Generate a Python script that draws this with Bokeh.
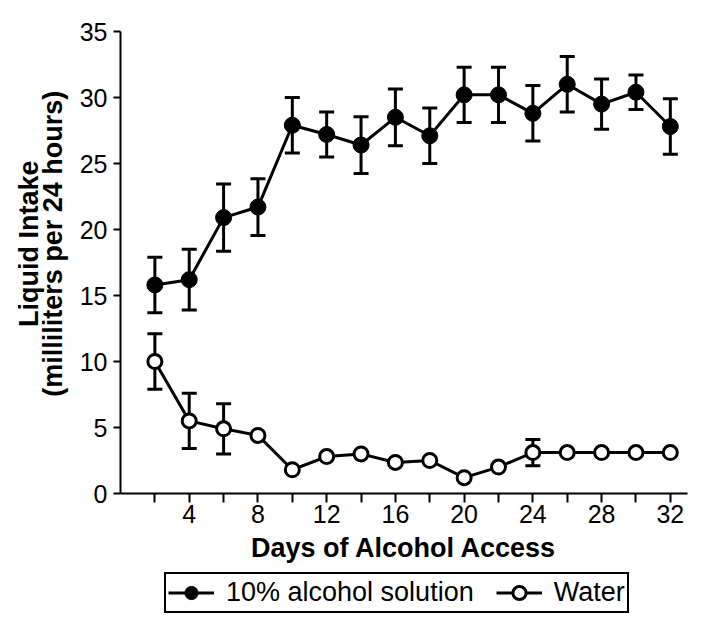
from bokeh.plotting import figure
from bokeh.layouts import column
from bokeh.models import (ColumnDataSource, Whisker, TeeHead, FixedTicker, Legend,
                          LegendItem, Range1d)
from bokeh.embed import file_html
from bokeh.resources import INLINE

# ---- data ----
days = [2, 4, 6, 8, 10, 12, 14, 16, 18, 20, 22, 24, 26, 28, 30, 32]
alcohol = [15.8, 16.2, 20.9, 21.7, 27.9, 27.2, 26.4, 28.5, 27.1, 30.2, 30.2, 28.8, 31.0, 29.5, 30.4, 27.8]
alcohol_err = [2.1, 2.3, 2.55, 2.15, 2.1, 1.7, 2.15, 2.15, 2.1, 2.1, 2.1, 2.1, 2.1, 1.9, 1.3, 2.1]
water = [10.0, 5.5, 4.9, 4.4, 1.8, 2.8, 3.0, 2.35, 2.5, 1.2, 2.0, 3.1, 3.1, 3.1, 3.1, 3.1]
water_err = [2.1, 2.1, 1.9, 0, 0, 0, 0, 0, 0, 0, 0, 1.0, 0, 0, 0, 0]
x_ticks = [2, 4, 6, 8, 10, 12, 14, 16, 18, 20, 22, 24, 26, 28, 30, 32]
x_labelled = [4, 8, 12, 16, 20, 24, 28, 32]
y_ticks = [0, 5, 10, 15, 20, 25, 30, 35]
series_names = ["10% alcohol solution", "Water"]

FONT = "Liberation Sans"

src_a = ColumnDataSource(dict(
    x=days, y=alcohol,
    lo=[v - e for v, e in zip(alcohol, alcohol_err)],
    hi=[v + e for v, e in zip(alcohol, alcohol_err)],
))
wx = [d for d, e in zip(days, water_err) if e > 0]
wv = [v for v, e in zip(water, water_err) if e > 0]
we = [e for e in water_err if e > 0]
src_we = ColumnDataSource(dict(x=wx, lo=[v - e for v, e in zip(wv, we)], hi=[v + e for v, e in zip(wv, we)]))
src_w = ColumnDataSource(dict(x=days, y=water))

p = figure(width=694, height=572, output_backend="svg", toolbar_location=None,
           x_range=Range1d(0, 33), y_range=Range1d(0, 35),
           min_border_left=120, min_border_top=31, min_border_right=7, min_border_bottom=79)
p.outline_line_color = None
p.xgrid.grid_line_color = None
p.ygrid.grid_line_color = None
p.background_fill_color = "white"

# series
la = p.line("x", "y", source=src_a, line_color="black", line_width=3)
sa = p.scatter("x", "y", source=src_a, size=16, fill_color="black", line_color="black", line_width=1)
lw = p.line("x", "y", source=src_w, line_color="black", line_width=3)
sw = p.scatter("x", "y", source=src_w, size=14, fill_color="white", line_color="black", line_width=3)

for src in (src_a, src_we):
    wh = Whisker(source=src, base="x", lower="lo", upper="hi", line_color="black", line_width=3,
                 upper_head=TeeHead(size=15, line_width=3, line_color="black"),
                 lower_head=TeeHead(size=15, line_width=3, line_color="black"))
    p.add_layout(wh)

# axes
for ax in (p.xaxis[0], p.yaxis[0]):
    ax.axis_line_width = 2
    ax.axis_line_color = "black"
    ax.major_tick_line_width = 2
    ax.major_tick_line_color = "black"
    ax.major_tick_in = 0
    ax.minor_tick_line_color = None
    ax.major_label_text_font = FONT
    ax.major_label_text_font_size = "25px"
    ax.major_label_text_color = "black"
    ax.axis_label_text_font = FONT
    ax.axis_label_text_font_size = "27px"
    ax.axis_label_text_font_style = "bold"
    ax.axis_label_text_color = "black"

p.xaxis.ticker = FixedTicker(ticks=x_ticks)
p.xaxis.major_label_overrides = {t: ("" if t not in x_labelled else str(t)) for t in x_ticks}
p.xaxis.major_tick_out = 9
p.xaxis.major_label_standoff = 2
p.xaxis.axis_label = "Days of Alcohol Access"
p.xaxis.axis_label_standoff = 7

pad = "\u00a0" * 5
p.yaxis.ticker = FixedTicker(ticks=y_ticks)
p.yaxis.major_tick_out = 7
p.yaxis.major_label_standoff = 6
p.yaxis.axis_label = pad + "Liquid Intake\n" + pad + "(milliliters per 24 hours)"
p.yaxis.axis_label_standoff = 9
p.yaxis.axis_label_text_line_height = 0.8

# ---- legend strip below the chart ----
p2 = figure(width=694, height=52, output_backend="svg", toolbar_location=None,
            x_range=Range1d(0, 1), y_range=Range1d(0, 1),
            x_axis_type=None, y_axis_type=None,
            min_border_left=120, min_border_top=0, min_border_right=7, min_border_bottom=0)
p2.outline_line_color = None
nan = float("nan")
dl_a = p2.line([nan, nan], [nan, nan], line_color="black", line_width=3)
ds_a = p2.scatter([nan], [nan], size=16, fill_color="black", line_color="black", line_width=1)
dl_w = p2.line([nan, nan], [nan, nan], line_color="black", line_width=3)
ds_w = p2.scatter([nan], [nan], size=14, fill_color="white", line_color="black", line_width=3)

legend = Legend(items=[
    LegendItem(label=series_names[0], renderers=[dl_a, ds_a]),
    LegendItem(label=series_names[1], renderers=[dl_w, ds_w]),
], orientation="horizontal", location=(44, 11))
legend.border_line_color = "black"
legend.border_line_alpha = 1.0
legend.border_line_width = 2
legend.padding = 2
legend.margin = 0
legend.spacing = 22
legend.label_standoff = 12
legend.glyph_width = 46
legend.glyph_height = 33
legend.label_text_font = FONT
legend.label_text_font_size = "27px"
legend.label_text_color = "black"
p2.add_layout(legend)

open("out.html", "w").write(file_html(column(p, p2, spacing=0), INLINE))
